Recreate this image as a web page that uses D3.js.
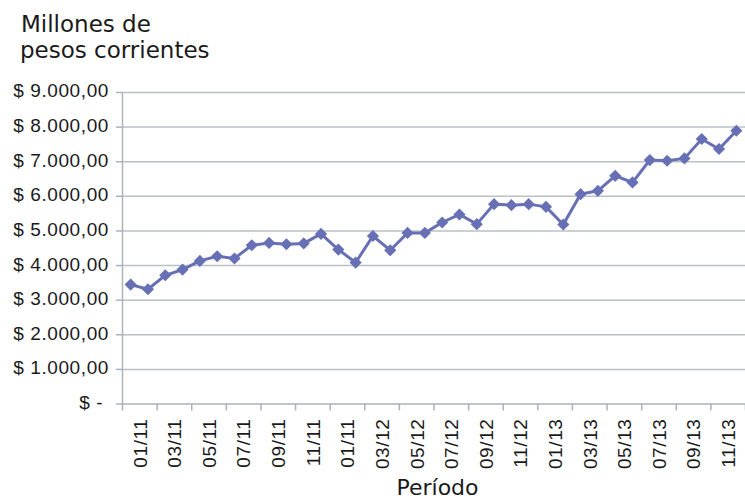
<!DOCTYPE html>
<html>
<head>
<meta charset="utf-8">
<script src="https://cdn.jsdelivr.net/npm/d3@7"></script>
<style>
  body { margin: 0; background: #fff; }
  svg { font-family: "DejaVu Sans", sans-serif; }
  .grid line { stroke: #b9c1c7; stroke-width: 1.5; }
  .grid path { display: none; }
  .axis path, .axis line { stroke: #aab3ba; stroke-width: 1.5; }
  .axis text { fill: #1a1a1a; font-size: 19px; letter-spacing: 0.6px; }
</style>
</head>
<body>
<svg></svg>
<script>
// chart size
var width = 745;
var height = 501;

// data: monthly values, millones de pesos corrientes (01/11 .. 12/13)
var valores = [
  3436, 3300, 3705, 3870, 4120, 4255, 4190, 4573, 4640, 4600, 4625, 4900,
  4448, 4072, 4840, 4428, 4929, 4929, 5230, 5461, 5181, 5760, 5731, 5760,
  5681, 5172, 6049, 6145, 6579, 6388, 7033, 7013, 7082, 7641, 7352, 7881
];

// x labels, one every two months (as printed in the original, incl. the 2nd "01/11")
var etiquetasX = ['01/11', '03/11', '05/11', '07/11', '09/11', '11/11',
  '01/11', '03/12', '05/12', '07/12', '09/12', '11/12',
  '01/13', '03/13', '05/13', '07/13', '09/13', '11/13'];

// y ticks and their labels (accounting format)
var ticksY = [0, 1000, 2000, 3000, 4000, 5000, 6000, 7000, 8000, 9000];
var etiquetasY = ['$ - ', '$ 1.000,00', '$ 2.000,00', '$ 3.000,00', '$ 4.000,00',
  '$ 5.000,00', '$ 6.000,00', '$ 7.000,00', '$ 8.000,00', '$ 9.000,00'];

// plot area (note: "top" is taken by window.top)
var plotLeft = 122, plotRight = 745, plotTop = 92, plotBottom = 403.5;
var color = '#6770b5';

var svg = d3.select('svg')
  .attr('width', width)
  .attr('height', height);

// scales
var scaleX = d3.scaleLinear()
  .domain([0, valores.length]) // category boundaries
  .range([plotLeft, plotRight]);

var scaleY = d3.scaleLinear()
  .domain([0, 9000])
  .range([plotBottom, plotTop]);

// gridlines
svg.append('g')
  .attr('class', 'grid')
  .attr('transform', 'translate(' + plotLeft + ',0)')
  .call(d3.axisLeft(scaleY)
    .tickValues(ticksY.slice(1))
    .tickSize(-(plotRight - plotLeft))
    .tickFormat(''));

// y axis
var yAxis = svg.append('g')
  .attr('class', 'axis')
  .attr('transform', 'translate(' + plotLeft + ',0)')
  .call(d3.axisLeft(scaleY)
    .tickValues(ticksY)
    .tickSize(6)
    .tickSizeOuter(0)
    .tickPadding(7)
    .tickFormat((d, i) => etiquetasY[i]));
yAxis.selectAll('text').attr('dy', '0.26em').style('white-space', 'pre');

// x axis tick marks (every two categories)
svg.append('g')
  .attr('class', 'axis')
  .attr('transform', 'translate(0,' + plotBottom + ')')
  .call(d3.axisBottom(scaleX)
    .tickValues(d3.range(0, valores.length + 1, 2))
    .tickSize(7)
    .tickSizeOuter(0)
    .tickFormat(''));

// x axis labels, centred between tick marks and rotated
var xLabels = svg.append('g')
  .attr('class', 'axis')
  .attr('transform', 'translate(0,' + plotBottom + ')')
  .call(d3.axisBottom(scaleX)
    .tickValues(d3.range(1, valores.length, 2))
    .tickSize(0)
    .tickFormat((d, i) => etiquetasX[i]));
xLabels.select('.domain').remove();
xLabels.selectAll('text')
  .attr('transform', 'rotate(-90)')
  .attr('x', -15)
  .attr('y', 0)
  .attr('dy', '0.36em')
  .style('text-anchor', 'end');

// line
var line = d3.line()
  .x((d, i) => scaleX(i + 0.5))
  .y(d => scaleY(d));

svg.append('path')
  .datum(valores)
  .attr('fill', 'none')
  .attr('stroke', color)
  .attr('stroke-width', 3)
  .attr('d', line);

// diamond markers
svg.selectAll('.marker')
  .data(valores)
  .enter()
  .append('path')
    .attr('class', 'marker')
    .attr('d', d3.symbol(d3.symbolSquare, 74))
    .attr('transform', (d, i) => 'translate(' + scaleX(i + 0.5) + ',' + scaleY(d) + ') rotate(45)')
    .attr('fill', color);

// title
svg.append('text')
  .attr('x', 21)
  .attr('y', 31.5)
  .style('font-size', '23px')
  .style('fill', '#1a1a1a')
  .text('Millones de');

svg.append('text')
  .attr('x', 20)
  .attr('y', 58)
  .style('font-size', '23px')
  .style('fill', '#1a1a1a')
  .text('pesos corrientes');

// x label
svg.append('text')
  .attr('x', 437.5)
  .attr('y', 495)
  .style('text-anchor', 'middle')
  .style('font-size', '22px')
  .style('fill', '#1a1a1a')
  .text('Período');
</script>
</body>
</html>
